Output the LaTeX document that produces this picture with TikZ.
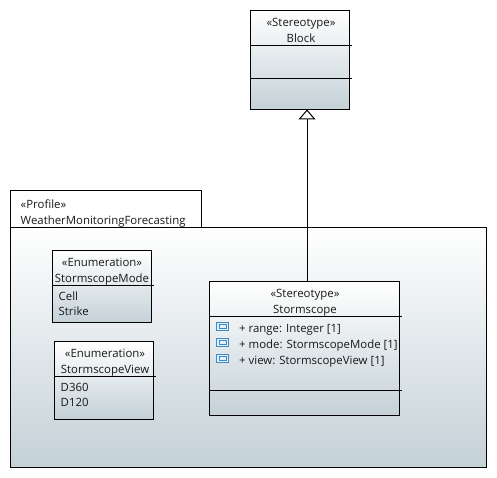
\documentclass[tikz,border=0pt]{standalone}
\usepackage{fontspec}
\setmainfont{Open Sans}
\usetikzlibrary{arrows.meta}

\definecolor{shadeEnd}{HTML}{C4D1D7}
\definecolor{iconBlue}{HTML}{3D8AC8}
\definecolor{iconFill}{HTML}{E4F0F8}

\tikzset{
    umlbox/.style={draw=black, line width=1pt, anchor=north west, inner sep=0pt, outer sep=0pt,
        top color=white, bottom color=shadeEnd},
    tabbox/.style={draw=black, line width=1pt, anchor=north west, inner sep=0pt, outer sep=0pt, fill=white},
    umltext/.style={font=\fontsize{11.4}{13}\selectfont, inner sep=0pt, text=black!90, text height=10pt, text depth=1pt},
    itemtext/.style={umltext, anchor=west},
    attricon/.style={draw=iconBlue, fill=iconFill, line width=1pt, minimum width=12pt, minimum height=8pt, inner sep=0pt,
        path picture={\draw[iconBlue, line width=0.7pt]
            ([xshift=2.5pt,yshift=2.2pt]path picture bounding box.south west) rectangle
            ([xshift=-2.5pt,yshift=-2.2pt]path picture bounding box.north east);}},
    sepline/.style={line width=1pt},
    genline/.style={line width=1pt, -{Triangle[open, length=10pt, width=17pt, line width=1pt]}}
}

\begin{document}
\begin{tikzpicture}[x=1pt, y=-1pt]

\useasboundingbox (0,0) rectangle (497,478);

% --- Package frame with its tab ---
\node[tabbox, minimum width=191pt, minimum height=37pt] (profileTab) at (10.5,190.5) {};
\node[umlbox, minimum width=476pt, minimum height=240pt] (profile) at (10.5,227.5) {};
\node[itemtext] (profileKind) at (20.5,204) {«Profile»};
\node[itemtext] (profileName) at (20.5,220) {WeatherMonitoringForecasting};

% --- Parent stereotype ---
\node[umlbox, minimum width=99pt, minimum height=99pt] (block) at (250.5,10.5) {};
\node[umltext] (blockKind) at (301,22) {«Stereotype»};
\node[umltext] (blockName) at (301,38) {Block};
\draw[sepline] ([yshift=-35pt]block.north west) -- ++(101,0);
\draw[sepline] ([yshift=-68pt]block.north west) -- ++(101,0);

% --- Enumerations ---
\node[umlbox, minimum width=99pt, minimum height=72pt] (modeEnum) at (52.5,250.5) {};
\node[umltext] (modeKind) at (102,262) {«Enumeration»};
\node[umltext] (modeName) at (102,278) {StormscopeMode};
\draw[sepline] ([yshift=-35pt]modeEnum.north west) -- ++(101,0);
\node[itemtext] (modeCell) at (58.5,296) {Cell};
\node[itemtext] (modeStrike) at (58.5,311) {Strike};

\node[umlbox, minimum width=99pt, minimum height=78pt] (viewEnum) at (54.5,341.5) {};
\node[umltext] (viewKind) at (105,353) {«Enumeration»};
\node[umltext] (viewName) at (105,369) {StormscopeView};
\draw[sepline] ([yshift=-35pt]viewEnum.north west) -- ++(101,0);
\node[itemtext] (viewFull) at (60.5,387) {D360};
\node[itemtext] (viewArc) at (60.5,402) {D120};

% --- Stormscope stereotype ---
\node[umlbox, minimum width=190pt, minimum height=134pt] (stormscope) at (209.5,281.5) {};
\node[umltext] (stormKind) at (305,293) {«Stereotype»};
\node[umltext] (stormName) at (305,309) {Stormscope};
\draw[sepline] ([yshift=-35pt]stormscope.north west) -- ++(192,0);
\draw[sepline] ([yshift=-109pt]stormscope.north west) -- ++(192,0);

\foreach \i/\yPos/\attrText in {1/326.5/{+ range: Integer [1]}, 2/342.5/{+ mode: StormscopeMode [1]}, 3/358.5/{+ view: StormscopeView [1]}} {
    \node[attricon] (attrIcon\i) at (222.5,\yPos) {};
    \node[itemtext] (attrText\i) at (239,\yPos+1) {\attrText};
}

% --- Generalization ---
\coordinate (genTip) at ([xshift=7pt]block.south);
\draw[genline] (stormscope.north -| genTip) -- (genTip);

\end{tikzpicture}
\end{document}
